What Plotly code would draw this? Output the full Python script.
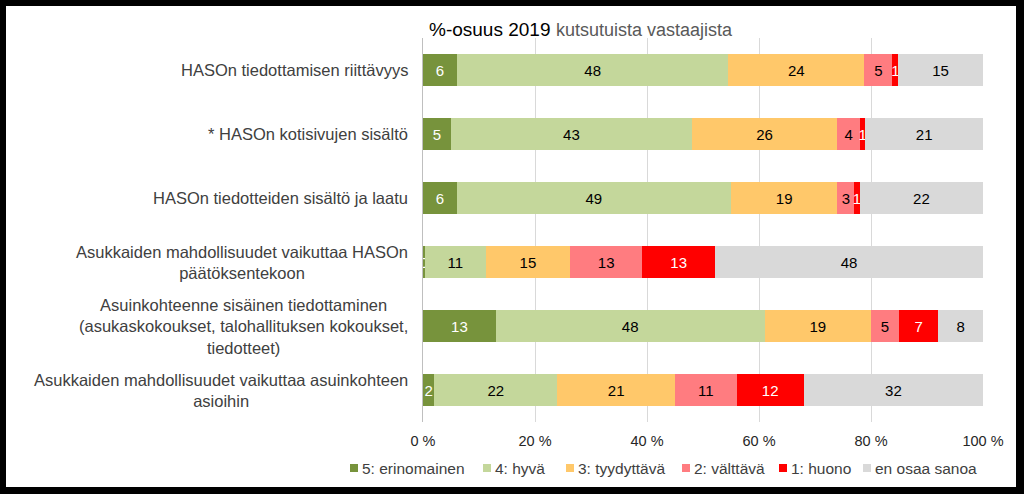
import plotly.graph_objects as go

categories = [
    "HASOn tiedottamisen riittävyys",
    "* HASOn kotisivujen sisältö",
    "HASOn tiedotteiden sisältö ja laatu",
    "Asukkaiden mahdollisuudet vaikuttaa HASOn<br>päätöksentekoon",
    "Asuinkohteenne sisäinen tiedottaminen<br>(asukaskokoukset, talohallituksen kokoukset,<br>tiedotteet)",
    "Asukkaiden mahdollisuudet vaikuttaa asuinkohteen<br>asioihin",
]
series_names = ["5: erinomainen", "4: hyvä", "3: tyydyttävä", "2: välttävä", "1: huono", "en osaa sanoa"]
s5 = [6, 5, 6, 0.3, 13, 2]
s4 = [48, 43, 49, 11, 48, 22]
s3 = [24, 26, 19, 15, 19, 21]
s2 = [5, 4, 3, 13, 5, 11]
s1 = [1, 1, 1, 13, 7, 12]
s0 = [15, 21, 22, 48, 8, 32]
series_values = [s5, s4, s3, s2, s1, s0]
colors = ["#77933C", "#C4D79B", "#FFC86A", "#FF7C80", "#FF0000", "#D9D9D9"]
text_colors = ["white", "black", "black", "black", "white", "black"]
tick_vals = [0, 20, 40, 60, 80, 100]
tick_text = ["0 %", "20 %", "40 %", "60 %", "80 %", "100 %"]

FONT = "Liberation Sans, Arial"
W, H = 1024, 494
ML, MR, MT, MB = 423, 41, 38, 72
PW, PH = W - ML - MR, H - MT - MB

fig = go.Figure()
for name, vals, col, tcol in zip(series_names, series_values, colors, text_colors):
    fig.add_trace(go.Bar(
        y=categories, x=vals, name=name, orientation="h",
        marker=dict(color=col, line=dict(width=0)),
        text=[f"{v:.0f}" for v in vals],
        textposition="inside", insidetextanchor="middle", textangle=0,
        insidetextfont=dict(color=tcol, size=15, family=FONT),
        hoverinfo="skip", showlegend=False,
    ))

def px_x(px):
    return (px - ML) / PW

def px_y(py):
    return 1 - (py - MT) / PH

annotations = []
shapes = [dict(type="rect", xref="paper", yref="paper", layer="below",
               x0=px_x(6), x1=px_x(1016), y0=px_y(487), y1=px_y(6),
               fillcolor="white", line=dict(width=0))]

for c in categories:
    annotations.append(dict(
        x=0, xref="x", y=c, yref="y", xanchor="right", yanchor="middle",
        xshift=-13, text=c, showarrow=False, align="center",
        font=dict(size=16.5, color="#404040", family=FONT),
    ))

annotations.append(dict(
    x=px_x(427), xref="paper", y=px_y(29), yref="paper", xanchor="left", yanchor="middle",
    showarrow=False,
    text="<span style='color:#000000;font-size:19px'>%-osuus 2019</span>"
         "<span style='font-size:10px'>  </span>"
         "<span style='color:#595959;font-size:18px'>kutsutuista vastaajista</span>",
    font=dict(size=19, family=FONT),
))

# legend (drawn as layout items to match the compact original layout)
legend_x = [350, 483, 566, 682, 779, 863]
legend_y = 468
for name, col, lx in zip(series_names, colors, legend_x):
    shapes.append(dict(type="rect", xref="paper", yref="paper",
                       x0=px_x(lx), x1=px_x(lx + 8), y0=px_y(legend_y + 4), y1=px_y(legend_y - 4),
                       fillcolor=col, line=dict(width=0)))
    annotations.append(dict(
        x=px_x(lx + 10), xref="paper", y=px_y(legend_y), yref="paper",
        xanchor="left", yanchor="middle", showarrow=False, text=name,
        font=dict(size=15.5, color="#404040", family=FONT),
    ))

fig.update_layout(
    width=W, height=H,
    margin=dict(l=ML, r=MR, t=MT, b=MB, pad=0, autoexpand=False),
    barmode="stack", barnorm="percent", bargap=0.5,
    paper_bgcolor="black", plot_bgcolor="white",
    uniformtext=dict(minsize=15, mode="show"),
    shapes=shapes,
    annotations=annotations,
    showlegend=False,
    xaxis=dict(range=[0, 100], tickvals=tick_vals, ticktext=tick_text, showgrid=True,
               gridcolor="#D9D9D9", gridwidth=1, zeroline=False, showline=False,
               tickfont=dict(size=14.5, color="#262626", family=FONT),
               ticks="outside", ticklen=6, tickcolor="rgba(0,0,0,0)"),
    yaxis=dict(autorange="reversed", showticklabels=False, showline=True, linecolor="#BFBFBF",
               linewidth=1, ticks="", showgrid=False, zeroline=False),
)
fig.write_html(
    "out.html",
    config={"displayModeBar": False, "staticPlot": True},
    post_script="document.body.style.margin='0';document.body.style.overflow='hidden';",
)
